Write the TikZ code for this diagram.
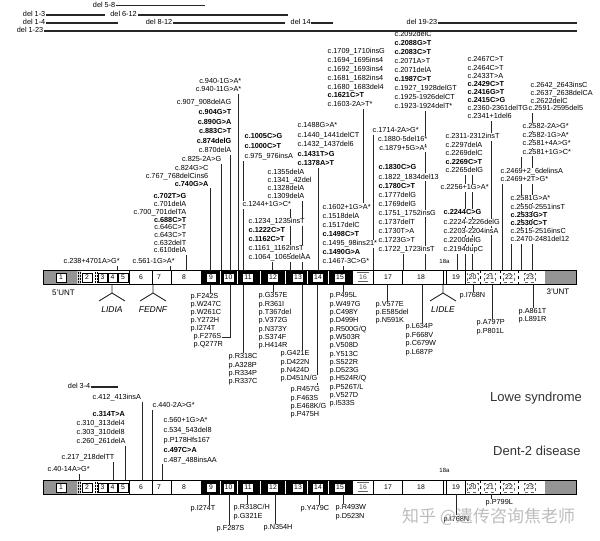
\documentclass[tikz,border=0pt]{standalone}
\usepackage{fontspec}
\setmainfont{Liberation Sans}
\newfontfamily\cjkfont{Noto Sans CJK SC}
\newcommand\stk[6]{\foreach \t [count=\i] in {#6}{\node[lbl,anchor=#2] (#1\i) at (#3,{-(#4)-(#5)*(\i-1)}) {\t};}}
\newcommand\vl[3]{\draw[ln] (#1,-#2) -- (#1,-#3);}
\newcommand\motif[3]{\draw[ln] (#2,-285) -- (#2,-293) -- (#2-13,-301); \draw[ln] (#2,-293) -- (#2+13,-301);
 \node[mot] (#1) at (#2,-309.5) {#3};}
\newcommand\genebar[2]{%
\begin{scope}[yshift=-#2pt]
\fill[bargray] (43,0) rectangle (77,-14.5);
\fill[bargray] (545,0) rectangle (576,-14.5);
\fill[black!15] (77,0) rectangle (81,-14.5);
\foreach \a/\b in {200/220,220/237,237/260,260/285,285/307,307/328,328/353} \fill (\a+0.5,0) rectangle (\b-0.5,-14.5);
\draw[line width=0.5pt, densely dotted] (78,0)--(78,-14.5) (80,0)--(80,-14.5) (95.5,0)--(95.5,-14.5) (97,0)--(97,-14.5);
\draw[line width=0.6pt] (129,0)--(129,-14.5) (152,0)--(152,-14.5) (171,0)--(171,-14.5) (373,0)--(373,-14.5) (402,0)--(402,-14.5) (443,0)--(443,-14.5) (446,0)--(446,-14.5) (465,0)--(465,-14.5);
\draw[line width=0.5pt, dashed] (480,0)--(480,-14.5) (500,0)--(500,-14.5) (518,0)--(518,-14.5);
\draw[line width=0.7pt] (43,0) rectangle (576,-14.5);
\node[exb] (#1e1) at (61,-7.25) {1};
\node[exb] (#1e2) at (87,-7.25) {2};
\node[exb] (#1e3) at (102.5,-7.25) {3};
\node[exb] (#1e4) at (112.5,-7.25) {4};
\node[exb] (#1e5) at (123,-7.25) {5};
\node[exl] (#1e6) at (141,-7.25) {6};
\node[exl] (#1e7) at (159,-7.25) {7};
\node[exl] (#1e8) at (184,-7.25) {8};
\node[exb] (#1e9) at (211,-7.25) {9};
\node[exb,minimum width=11pt] (#1e10) at (228.5,-7.25) {10};
\node[exb,minimum width=11pt] (#1e11) at (248,-7.25) {11};
\node[exb,minimum width=11pt] (#1e12) at (273,-7.25) {12};
\node[exb,minimum width=11pt] (#1e13) at (298,-7.25) {13};
\node[exb,minimum width=11pt] (#1e14) at (318,-7.25) {14};
\node[exb,minimum width=11pt] (#1e15) at (340,-7.25) {15};
\node[exb,minimum width=11pt,draw=black!60,double=white,double distance=0.5pt,text=black!70] (#1e16) at (363,-7.25) {16};
\node[exl] (#1e17) at (388,-7.25) {17};
\node[exl] (#1e18) at (421,-7.25) {18};
\node[exl] (#1e19) at (456,-7.25) {19};
\node[exd] (#1e20) at (472.5,-7.25) {20};
\node[exd] (#1e21) at (490,-7.25) {21};
\node[exd] (#1e22) at (509,-7.25) {22};
\node[exd] (#1e23) at (530,-7.25) {23};
\end{scope}}
\begin{document}
\begin{tikzpicture}[x=1pt,y=1pt,
 lbl/.style={font=\fontsize{7.3}{8}\selectfont, inner xsep=0.5pt, inner ysep=0.3pt, text height=5.3pt, text depth=1.5pt, fill=white},
 ln/.style={line width=0.9pt, black!85},
 dl/.style={line width=1.1pt, black!85},
 exb/.style={draw, fill=white, line width=0.5pt, minimum width=9.5pt, minimum height=9pt, inner sep=0pt, font=\fontsize{6.8}{7}\selectfont},
 exl/.style={inner sep=0pt, font=\fontsize{6.8}{7}\selectfont},
 exd/.style={exb, dashed, draw=black!60, minimum width=11pt},
 mot/.style={font=\itshape\fontsize{8.5}{9}\selectfont, inner sep=0pt},
 big/.style={font=\fontsize{13}{14}\selectfont, text=black!80, inner sep=0pt, anchor=west},
 bargray/.style={fill=black!42},
]
\useasboundingbox (0,0) rectangle (600,-541);

% ---------- bars ----------
\genebar{L}{270}
\genebar{D}{480}

% ---------- Lowe: connector lines above the bar ----------
\vl{238}{94}{270} \vl{230}{155}{270} \vl{221}{164}{270} \vl{210}{188}{270} \vl{186}{255}{270}
\vl{117}{265.5}{270} \vl{170}{265.5}{270}
\vl{243}{161}{270}
\vl{302}{201}{270} \vl{290}{209}{270} \vl{272}{262}{270}
\vl{318}{168}{270}
\vl{363}{109}{203}
\vl{343}{266}{270}
\vl{373}{135}{270}
\vl{403}{254}{270}
\vl{425}{111}{270}
\vl{491}{121}{270}
\vl{532}{113}{270} \vl{521}{157}{270}
\vl{502}{184}{270}
\vl{511}{244}{270}
\vl{465}{175}{270} \vl{472}{175}{270} \vl{457}{254}{270}

% ---------- Lowe: lines below the bar ----------
\vl{210}{285}{293} \vl{243}{285}{353} \vl{273}{285}{292} \vl{302}{285}{350}
\vl{317}{285}{385} \vl{343}{285}{292} \vl{387}{285}{301} \vl{422}{285}{323}
\vl{473}{285}{292} \vl{492}{285}{319} \vl{533}{285}{308}
\motif{lidia}{112}{LIDIA}
\motif{fednf}{153}{FEDNF}
\motif{lidle}{443}{LIDLE}

% ---------- Dent: lines ----------
\vl{142}{402}{480} \vl{125}{446}{480} \vl{113}{462}{480} \vl{79}{474}{480}
\vl{152}{410}{480} \vl{162}{464}{480}
\vl{209}{494}{504.5} \vl{229}{494}{525} \vl{247}{494}{504} \vl{275}{494}{524}
\vl{319}{494}{505} \vl{343}{494}{504} \vl{456}{494}{515} \vl{491}{494}{499}

% ---------- Lowe labels above ----------
\stk{ga}{east}{242}{82}{8}{c.940-1G>A*, c.940-11G>A*}
\stk{gb}{east}{232}{103}{9.6}{c.907\_908delAG, \textbf{c.904G>T}, \textbf{c.890G>A}, \textbf{c.883C>T}, \textbf{c.874delG}, c.870delA}
\stk{gc}{east}{222}{160}{8}{c.825-2A>G}
\stk{gd}{east}{209}{169}{7.6}{c.824G>C, c.767\_768delCins6, \textbf{c.740G>A}}
\stk{ge}{east}{187}{197}{7.7}{\textbf{c.702T>G}, c.701delA, c.700\_701delTA, \textbf{c.688C>T}, c.646C>T, c.643C>T, c.632delT, c.610delA}
\node[lbl,anchor=west] (u1) at (63,-262) {c.238+4701A>G*};
\node[lbl,anchor=west] (u2) at (132,-262) {c.561-1G>A*};
\stk{gf}{west}{244}{137}{10}{\textbf{c.1005C>G}, \textbf{c.1000C>T}, c.975\_976insA}
\stk{gg}{west}{267}{173}{8}{c.1355delA, c.1341\_42del, c.1328delA, c.1309delA}
\node[lbl,anchor=west] (gh) at (242,-205) {c.1244+1G>C*};
\stk{gi}{west}{248}{222}{9}{c.1234\_1235insT, \textbf{c.1222C>T}, \textbf{c.1162C>T}, c.1161\_1162insT, c.1064\_1065delAA}
\stk{gj}{west}{297}{126}{9.5}{c.1488G>A*, c.1440\_1441delCT, c.1432\_1437del6, \textbf{c.1431T>G}, \textbf{c.1378A>T}}
\stk{gk}{west}{327}{52}{8.8}{c.1709\_1710insG, c.1694\_1695ins4, c.1692\_1693ins4, c.1681\_1682ins4, c.1680\_1683del4, \textbf{c.1621C>T}, c.1603-2A>T*}
\stk{gl}{west}{322}{208}{9}{c.1602+1G>A*, c.1518delA, c.1517delC, \textbf{c.1498C>T}, c.1495\_98ins21*, \textbf{c.1490G>A}, c.1467-3C>G*}
\node[lbl,anchor=west] (gm) at (372,-131) {c.1714-2A>G*};
\stk{gn}{east}{428}{140}{8.5}{c.1880-5del16*, c.1879+5G>A*}
\stk{go}{west}{378}{168}{9.1}{\textbf{c.1830C>G}, c.1822\_1834del13, \textbf{c.1780C>T}, c.1777delG, c.1769delG, c.1751\_1752insG, c.1737delT, c.1730T>A, c.1723G>T, c.1722\_1723insT}
\stk{gp}{west}{394}{35}{9}{c.2092delC, \textbf{c.2088G>T}, \textbf{c.2083C>T}, c.2071A>T, c.2071delA, \textbf{c.1987C>T}, c.1927\_1928delGT, c.1925-1926delCT, c.1923-1924delT*}
\stk{gq}{west}{467}{60}{8.1}{c.2467C>T, c.2464C>T, c.2433T>A, \textbf{c.2429C>T}, \textbf{c.2416G>T}, \textbf{c.2415C>G}, c.2360-2361delTG, c.2341+1del6}
\stk{gr}{west}{530}{86}{7.8}{c.2642\_2643insC, c.2637\_2638delCA, c.2622delC}
\node[lbl,anchor=west] (gr4) at (528,-109) {c.2591-2595del5};
\stk{gs}{west}{522}{127}{8.5}{c.2582-2A>G*, c.2582-1G>A*, c.2581+4A>G*, c.2581+1G>C*}
\stk{gt}{west}{500}{172}{8}{c.2469+2\_6delinsA, c.2469+2T>G*}
\stk{gu}{west}{510}{199}{8.2}{c.2581G>A*, c.2550-2551insT, \textbf{c.2533G>T}, \textbf{c.2530C>T}, c.2515-2516insC, c.2470-2481del12}
\stk{gv}{west}{445}{137}{8.5}{c.2311-2312insT, c.2297delA, c.2269delC, \textbf{c.2269C>T}, c.2265delG}
\node[lbl,anchor=west] (gw) at (440,-188) {c.2256+1G>A*};
\stk{gx}{west}{443}{213}{9.2}{\textbf{c.2244C>G}, c.2224-2226delG, c.2203-2204insA, c.2200delG, c.2194dupC}
\node[exl,font=\fontsize{6}{6}\selectfont] (l18a) at (444.5,-261.5) {18a};

% ---------- Lowe labels below ----------
\node[exl,font=\fontsize{8}{8}\selectfont] (u5L) at (63.5,-293) {5'UNT};
\node[exl,font=\fontsize{8}{8}\selectfont] (u3L) at (558,-292) {3'UNT};
\stk{pa}{west}{190}{297}{7.8}{p.F242S, p.W247C, p.W261C, p.Y272H, p.I274T}
\node[lbl,anchor=west] (pb1) at (193,-337) {p.F276S};
\node[lbl,anchor=west] (pb2) at (193,-345) {p.Q277R};
\draw[ln] (pb1.east) -- (230,-337) -- (230,-285);
\stk{pc}{west}{228}{357}{8.3}{p.R318C, p.A328P, p.R334P, p.R337C}
\stk{pd}{west}{258}{296}{8.3}{p.G357E, p.R361I, p.T367del, p.V372G, p.N373Y, p.S374F, p.H414R}
\stk{pe}{west}{280}{354}{8.3}{p.G421E, p.D422N, p.N424D, p.D451N/G}
\stk{pf}{west}{290}{390}{8.3}{p.R457G, p.F463S, p.E468K/G, p.P475H}
\stk{pg}{west}{329}{296}{8.3}{p.P495L, p.W497G, p.C498Y, p.D499H, p.R500G/Q, p.W503R, p.V508D, p.Y513C, p.S522R, p.D523G, p.H524R/Q, p.P526T/L, p.V527D, p.I533S}
\stk{ph}{west}{375}{305}{8}{p.V577E, p.E585del, p.N591K}
\stk{pi}{west}{405}{327}{8.5}{p.L634P, p.F668V, p.C679W, p.L687P}
\node[lbl,anchor=west] (pj) at (459,-296) {p.I768N};
\stk{pk}{west}{476}{323}{8.5}{p.A797P, p.P801L}
\stk{pl}{west}{518}{312}{8}{p.A861T, p.L891R}
\node[big] (lowe) at (490,-398) {Lowe syndrome};

% ---------- top deletions ----------
\node[lbl,anchor=east] (d58) at (116,-5.5) {del 5-8};
\node[lbl,anchor=east] (d13) at (46,-15) {del 1-3};
\node[lbl,anchor=east] (d612) at (137.5,-15) {del 6-12};
\node[lbl,anchor=east] (d14) at (46,-23) {del 1-4};
\node[lbl,anchor=east] (d812) at (173,-23) {del 8-12};
\node[lbl,anchor=west] (dd14) at (290,-23) {del 14};
\node[lbl,anchor=west] (d1923) at (406,-23) {del 19-23};
\node[lbl,anchor=east] (d123) at (44,-31) {del 1-23};
\draw[dl] (d58.east) -- (205,-5.5);
\draw[dl] (d13.east) -- (105,-15);
\draw[dl] (d612.east) -- (288,-15);
\draw[dl] (d14.east) -- (118,-23);
\draw[dl] (d812.east) -- (285,-23);
\draw[dl] (dd14.east) -- (333,-23);
\draw[dl] (d1923.east) -- (577,-23);
\draw[dl] (d123.east) -- (577,-31);

% ---------- Dent labels ----------
\node[lbl,anchor=east] (d34) at (91,-387) {del 3-4};
\draw[dl] (d34.east) -- (118,-387);
\node[lbl,anchor=west] (dc1) at (92,-398) {c.412\_413insA};
\node[lbl,anchor=west] (dc2) at (92,-415) {\textbf{c.314T>A}};
\stk{dc3}{west}{76}{424}{9}{c.310\_313del4, c.303\_310del8, c.260\_261delA}
\node[lbl,anchor=west] (dc6) at (61,-458) {c.217\_218delTT};
\node[lbl,anchor=west] (dc7) at (47,-470) {c.40-14A>G*};
\node[lbl,anchor=west] (dc8) at (152,-406) {c.440-2A>G*};
\stk{dc9}{west}{163}{421}{9.8}{c.560+1G>A*, c.534\_543del8, p.P178Hfs167, \textbf{c.497C>A}, c.487\_488insAA}
\node[exl,font=\fontsize{6}{6}\selectfont] (d18a) at (444.5,-470) {18a};
\node[lbl,anchor=west] (dp1) at (190,-509) {p.I274T};
\node[lbl,anchor=west] (dp2) at (216,-529) {p.F287S};
\stk{dp3}{west}{233}{508}{9}{p.R318C/H, p.G321E}
\node[lbl,anchor=west] (dp4) at (263,-528) {p.N354H};
\node[lbl,anchor=west] (dp5) at (300,-509) {p.Y479C};
\stk{dp6}{west}{335}{508}{9}{p.R493W, p.D523N}
\node[lbl,anchor=west] (dp7) at (443,-520) {p.I768N};
\node[lbl,anchor=west] (dp8) at (485,-503) {p.P799L};
\node[big] (dent) at (493,-451) {Dent-2 disease};

% ---------- watermark ----------
\node[font=\cjkfont\fontsize{17}{17}\selectfont, text=black!30, inner sep=0pt, anchor=west, opacity=0.85] (wm) at (402,-517) {知乎 @遗传咨询焦老师};
\end{tikzpicture}
\end{document}
